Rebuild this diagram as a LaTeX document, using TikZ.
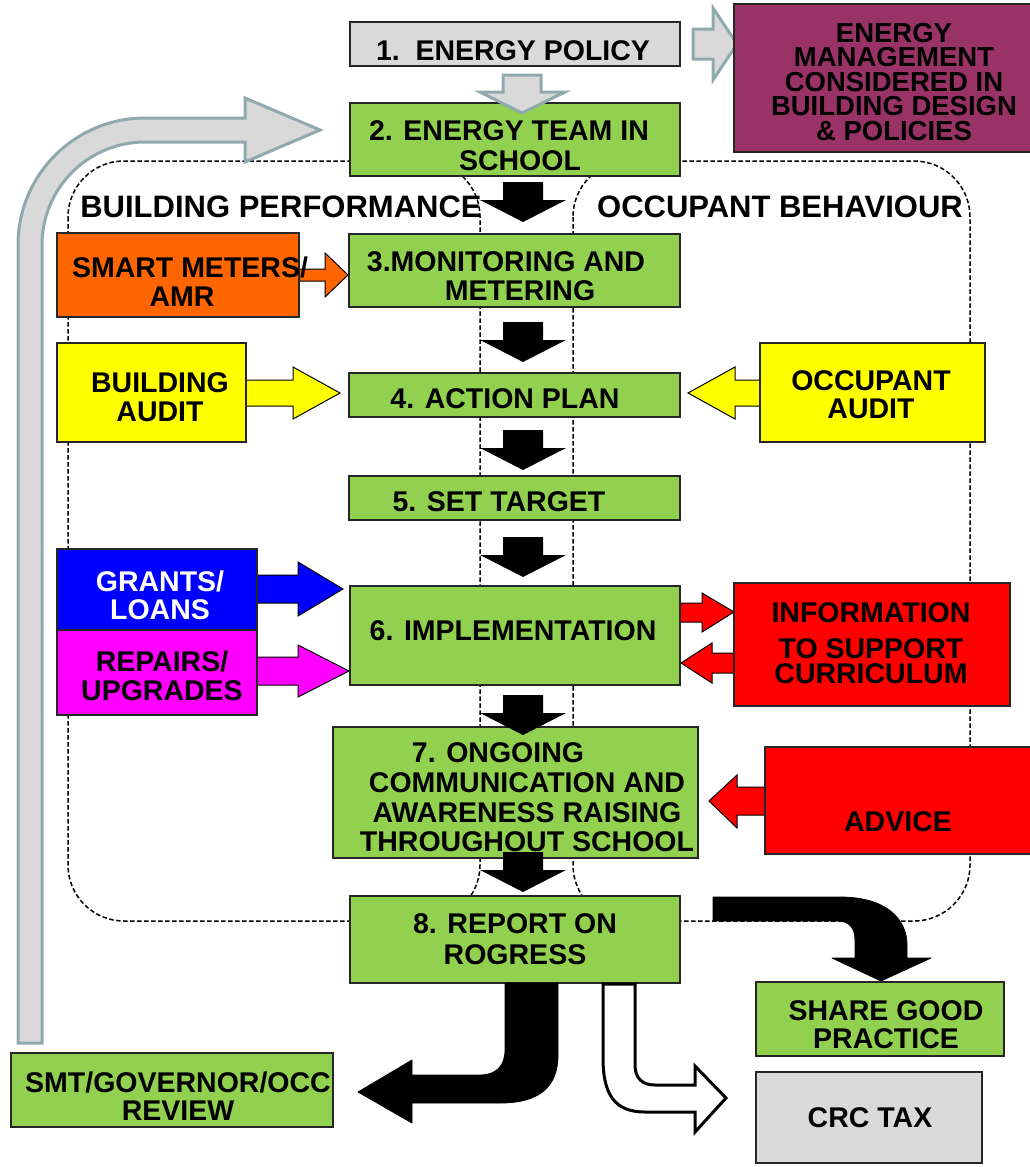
\documentclass[tikz,border=0pt]{standalone}
\usepackage{fontspec}
\setmainfont{Liberation Sans}
\definecolor{pgreen}{HTML}{92D050}
\definecolor{pgray}{HTML}{D9D9D9}
\definecolor{pteal}{HTML}{8FA9AD}
\definecolor{ppurple}{HTML}{993366}
\definecolor{porange}{HTML}{FF6600}
\definecolor{pyellow}{HTML}{FFFF00}
\definecolor{pblue}{HTML}{0000FF}
\definecolor{pmagenta}{HTML}{FF00FF}
\definecolor{pred}{HTML}{FF0000}
\tikzset{
  box/.style={draw=black!85, line width=1.3pt, inner sep=0pt, anchor=center},
  txt/.style={inner sep=0pt, anchor=north, align=center, font=\bfseries\fontsize{28.5}{29.5}\selectfont},
  headtxt/.style={inner sep=0pt, anchor=north, font=\bfseries\fontsize{31}{32}\selectfont},
  region/.style={draw=black, line width=1.5pt, dash pattern=on 4.5pt off 2.5pt, rounded corners=56pt},
  grayarrow/.style={fill=pgray, draw=pteal, line width=3pt, line join=miter},
  blackarrow/.style={fill=black, draw=black, line width=0.8pt, line join=round},
  sidearrow/.style={draw=black, line width=1pt, line join=miter},
  darrow/.pic={\fill[black] (-20,0) -- (20,0) -- (20,18) -- (43,18) -- (0,40) -- (-43,18) -- (-20,18) -- cycle;},
}
\begin{document}
\begin{tikzpicture}[x=1pt,y=-1pt]
\fill[white] (0,0) rectangle (1029,1167);
\useasboundingbox (0,0) rectangle (1029,1167);

% dashed regions
\draw[region] (68,161) rectangle (480,921);
\draw[region] (573,161) rectangle (970,921);

% big gray return arrow
\draw[grayarrow] (18,1043) -- (18,245) arc[start angle=180, end angle=270, radius=127]
  -- (245,118) -- (245,98) -- (320,130) -- (245,162) -- (245,142) -- (145,142)
  arc[start angle=270, end angle=180, radius=103] -- (42,1043) -- cycle;

% side block arrows (drawn below the boxes)
\draw[sidearrow, fill=porange] (290,269) -- (325,269) -- (325,253) -- (348,275) -- (325,297) -- (325,281) -- (290,281) -- cycle;
\draw[sidearrow, fill=pyellow] (238,380) -- (293,380) -- (293,367) -- (340,393) -- (293,419) -- (293,406) -- (238,406) -- cycle;
\draw[sidearrow, fill=pyellow] (768,380) -- (735,380) -- (735,367) -- (688,393) -- (735,419) -- (735,406) -- (768,406) -- cycle;
\draw[sidearrow, fill=pblue] (250,575) -- (298,575) -- (298,562) -- (343,589) -- (298,616) -- (298,603) -- (250,603) -- cycle;
\draw[sidearrow, fill=pmagenta] (250,657) -- (298,657) -- (298,645) -- (349,671) -- (298,697) -- (298,685) -- (250,685) -- cycle;
\draw[sidearrow, fill=pred] (672,603) -- (702,603) -- (702,593) -- (734,612) -- (702,632) -- (702,622) -- (672,622) -- cycle;
\draw[sidearrow, fill=pred] (742,653) -- (712,653) -- (712,643) -- (681,663) -- (712,683) -- (712,673) -- (742,673) -- cycle;
\draw[sidearrow, fill=pred] (772,787) -- (737,787) -- (737,775) -- (709,801) -- (737,828) -- (737,815) -- (772,815) -- cycle;

% gray arrow to purple box
\draw[grayarrow] (693,29) -- (713,29) -- (713,8) -- (737,44) -- (713,80) -- (713,59) -- (693,59) -- cycle;

% boxes
\node[box, fill=pgray, minimum width=330pt, minimum height=44pt] (b1) at (515,44) {};
\node[box, fill=ppurple, minimum width=306pt, minimum height=148pt] (emc) at (887,78) {};
\node[box, fill=pgreen, minimum width=330pt, minimum height=73pt] (b2) at (515,139.5) {};
\node[box, fill=porange, minimum width=242pt, minimum height=84pt] (sm) at (178,275) {};
\node[box, fill=pgreen, minimum width=331pt, minimum height=73pt] (b3) at (514.5,270.5) {};
\node[box, fill=pyellow, minimum width=189pt, minimum height=99pt] (ba) at (151.5,392.5) {};
\node[box, fill=pgreen, minimum width=331pt, minimum height=44pt] (b4) at (514.5,395) {};
\node[box, fill=pyellow, minimum width=225pt, minimum height=99pt] (oa) at (872.5,392.5) {};
\node[box, fill=pgreen, minimum width=331pt, minimum height=44pt] (b5) at (514.5,498) {};
\node[box, fill=pblue, minimum width=200pt, minimum height=81pt] (gl) at (157,589.5) {};
\node[box, fill=pmagenta, minimum width=200pt, minimum height=85pt] (ru) at (157,672.5) {};
\node[box, fill=pgreen, minimum width=330pt, minimum height=99pt] (b6) at (515,635.5) {};
\node[box, fill=pred, minimum width=276pt, minimum height=123pt] (info) at (872,644.5) {};
\node[box, fill=pgreen, minimum width=365pt, minimum height=131pt] (b7) at (515.5,792.5) {};
\node[box, fill=pred, minimum width=275pt, minimum height=107pt] (adv) at (902.5,800.5) {};
\node[box, fill=pgreen, minimum width=330pt, minimum height=87pt] (b8) at (515,939.5) {};
\node[box, fill=pgreen, minimum width=248pt, minimum height=74pt] (share) at (880,1019) {};
\node[box, fill=pgreen, minimum width=322pt, minimum height=74pt] (smt) at (172,1090) {};
\node[box, fill=pgray, minimum width=226pt, minimum height=91pt] (crc) at (869,1117.5) {};

% gray arrow from 1 to 2
\draw[grayarrow] (503,75) -- (541,75) -- (541,92) -- (565,92) -- (522,113) -- (480,92) -- (503,92) -- cycle;

% black step arrows
\pic at (523,182) {darrow};
\pic at (523,322) {darrow};
\pic at (523,430) {darrow};
\pic at (523,537) {darrow};
\pic at (523,695) {darrow};
\pic at (523,852) {darrow};

% curved arrows from report
\draw[blackarrow] (713,897) -- (840,897) .. controls (885,897) and (907,918) .. (907,945)
  -- (907,958) -- (931,958) -- (881,981) -- (832,958) -- (855,958) -- (855,940)
  .. controls (855,928) and (849,921) .. (838,921) -- (713,921) -- cycle;
\draw[blackarrow] (505,983) -- (505,1050) .. controls (505,1066) and (496,1075) .. (480,1075)
  -- (412,1075) -- (412,1060) -- (358,1092) -- (412,1123) -- (412,1103) -- (500,1103)
  .. controls (538,1103) and (558,1088) .. (558,1055) -- (558,983) -- cycle;
\draw[fill=white, draw=black, line width=3pt, line join=miter] (603,984) -- (603,1058)
  .. controls (603,1095) and (615,1112) .. (645,1112) -- (695,1112) -- (695,1132) -- (726,1098)
  -- (695,1066) -- (695,1085) -- (655,1085) .. controls (642,1085) and (635,1078) .. (635,1065)
  -- (635,984) -- cycle;

% texts
\node[txt] (t1) at (513,40.7) {1.\ \ ENERGY POLICY};
\node[txt, font=\bfseries\fontsize{27.5}{24.4}\selectfont] (temc) at (894,23) {ENERGY\\MANAGEMENT\\CONSIDERED IN\\BUILDING DESIGN\\\& POLICIES};
\node[txt] (t2) at (515,120.7) {\hspace*{-12pt}2. ENERGY TEAM IN\\\hspace*{10pt}SCHOOL};
\node[headtxt] (hbp) at (281,195.8) {BUILDING PERFORMANCE};
\node[headtxt] (hob) at (780,195.8) {OCCUPANT BEHAVIOUR};
\node[txt, font=\bfseries\fontsize{28.5}{28.5}\selectfont] (tsm) at (186,256.7) {\hspace*{8pt}SMART METERS/\\\hspace*{-8pt}AMR};
\node[txt, font=\bfseries\fontsize{28.5}{29}\selectfont] (t3) at (513,251.7) {\hspace*{-14pt}3.MONITORING AND\\\hspace*{14pt}METERING};
\node[txt, font=\bfseries\fontsize{28.5}{29}\selectfont] (tba) at (160,372.7) {BUILDING\\AUDIT};
\node[txt] (t4) at (505,388.7) {4. ACTION PLAN};
\node[txt, font=\bfseries\fontsize{28.5}{28}\selectfont] (toa) at (871,370.7) {OCCUPANT\\AUDIT};
\node[txt] (t5) at (499,491.7) {5. SET TARGET};
\node[txt, text=white, font=\bfseries\fontsize{28.5}{28}\selectfont] (tgl) at (160,570.7) {GRANTS/\\LOANS};
\node[txt, font=\bfseries\fontsize{28.5}{29}\selectfont] (tru) at (162,650.7) {REPAIRS/\\UPGRADES};
\node[txt] (t6) at (513,620.7) {6. IMPLEMENTATION};
\node[txt, font=\bfseries\fontsize{28.5}{25}\selectfont] (tinfo) at (871,602.7) {INFORMATION\\[11pt]TO SUPPORT\\CURRICULUM};
\node[txt, font=\bfseries\fontsize{28.5}{29.7}\selectfont] (t7) at (527,742.7) {\hspace*{-58pt}7. ONGOING\\COMMUNICATION AND\\AWARENESS RAISING\\THROUGHOUT SCHOOL};
\node[txt] (tadv) at (898,811.7) {ADVICE};
\node[txt, font=\bfseries\fontsize{28.5}{30.5}\selectfont] (t8) at (515,913.7) {8. REPORT ON\\ROGRESS};
\node[txt, font=\bfseries\fontsize{28.5}{28}\selectfont] (tshare) at (886,1000.7) {SHARE GOOD\\PRACTICE};
\node[txt, font=\bfseries\fontsize{28.5}{28}\selectfont] (tsmt) at (178,1071.7) {SMT/GOVERNOR/OCC\\REVIEW};
\node[txt] (tcrc) at (870,1107.7) {CRC TAX};
\end{tikzpicture}
\end{document}
